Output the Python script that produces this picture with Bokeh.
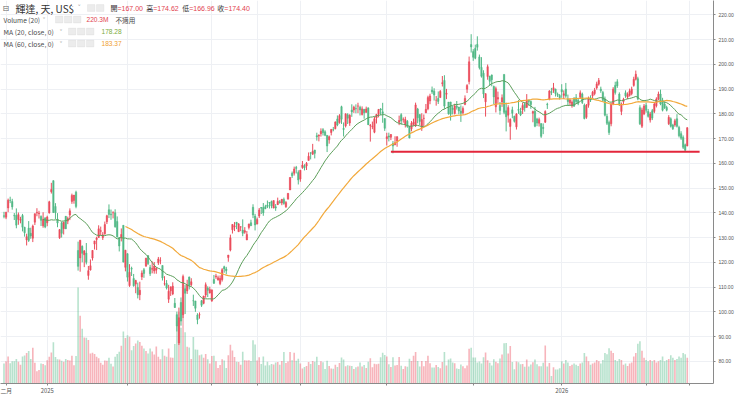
import pandas as pd
from bokeh.plotting import figure
from bokeh.models import (Range1d, FixedTicker, SingleIntervalTicker, NumeralTickFormatter,
                          Label, BoxAnnotation, ColumnDataSource)
from bokeh.embed import file_html
from bokeh.resources import INLINE

# ---------------- data (daily bars, 輝達 NVDA, Dec 2024 -> Mar 2026) ----------------
OPENS = [
    138.83,138.26,142.00,145.11,144.60,138.97,139.01,137.36,137.08,138.94,134.18,129.09,133.86,131.76,129.81,136.28,140.00,139.70,138.55,134.83,138.03,
    136.00,140.01,148.59,153.03,142.58,137.45,129.99,136.05,133.65,138.64,136.69,139.16,144.66,145.05,148.37,124.80,121.81,126.50,123.10,123.78,
    114.75,116.96,121.76,127.42,129.22,130.09,132.58,130.02,131.56,136.48,141.27,139.51,140.03,140.04,136.56,129.98,129.99,135.00,118.02,
    123.51,110.65,117.58,113.53,111.25,109.90,106.99,114.12,117.03,118.61,122.74,118.00,117.27,116.55,116.89,119.88,120.60,118.73,111.35,111.49,105.13,
    108.52,107.29,103.51,98.91,87.46,103.81,98.89,109.37,108.50,114.11,110.97,104.55,104.45,98.77,98.78,104.52,103.48,106.85,109.69,107.67,104.47,
    113.08,114.18,112.91,111.48,113.05,118.25,117.35,121.97,124.98,133.20,134.30,136.22,132.39,134.29,133.06,132.23,129.10,134.15,136.03,142.25,138.72,
    135.49,138.78,142.19,142.17,142.51,143.19,144.21,144.61,141.97,142.48,143.35,144.49,144.01,145.45,142.50,145.56,149.27,155.98,156.04,158.37,
    156.29,153.66,158.37,158.98,158.97,161.22,164.32,163.72,165.37,171.19,171.06,172.02,173.64,172.75,171.34,169.53,172.47,173.61,174.02,177.96,176.51,182.90,
    174.09,175.16,179.62,176.33,181.57,181.56,182.16,183.16,182.64,179.74,181.88,180.60,182.43,175.20,174.85,172.61,178.35,180.06,181.98,180.82,178.11,
    170.00,171.06,170.57,168.03,167.55,169.08,176.64,179.68,177.78,175.67,177.00,174.86,173.98,175.77,175.30,181.97,179.77,174.48,178.17,180.43,182.08,
    185.24,189.60,189.19,185.50,186.23,186.57,192.23,193.51,187.97,184.77,184.80,182.23,180.18,183.13,182.79,181.14,180.42,183.84,189.99,193.05,207.98,205.15,206.45,
    208.08,203.00,198.77,196.42,184.90,195.10,195.16,195.72,191.05,182.86,185.97,183.38,184.79,195.95,181.24,179.49,174.91,181.63,179.01,
    174.76,181.76,181.08,181.62,183.89,182.64,185.56,184.97,180.28,181.11,177.94,176.26,176.10,174.53,176.67,183.92,186.00,189.00,189.50,190.00,187.90,187.40,
    189.8,187.5,190.0,186.0,184.5,183.2,186.0,186.5,185.5,186.7,188.0,183.5,178.6,183.5,186.5,187.3,188.2,190.5,192.0,190.0,
    188.6,186.0,179.0,176.5,176.0,184.0,191.5,193.0,188.0,181.0,185.0,188.5,186.8,187.5,188.2,191.5,194.0,194.2,182.5,175.0,
    180.0,183.5,181.0,177.5,181.3,181.0,183.3,186.0,188.0,185.5,184.0,182.6,176.0,178.0,175.5,175.5,178.0,174.5,172.0,170.5,167.5,167.00,
]
HIGHS = [
    140.45,140.45,145.79,146.54,145.70,139.95,141.82,140.17,138.44,139.60,134.40,131.59,136.70,134.03,135.28,139.79,141.90,140.85,139.02,140.27,138.07,
    138.88,144.90,152.16,153.13,143.95,139.92,133.49,136.38,136.45,138.75,138.50,141.83,147.79,147.23,148.97,128.40,129.00,126.89,125.00,127.85,
    118.57,121.20,125.00,128.77,130.37,135.00,134.48,132.24,136.50,139.25,143.44,141.36,140.67,141.46,138.59,130.20,133.73,135.01,125.09,
    123.70,119.31,118.28,115.35,113.00,111.85,112.23,116.77,117.76,121.89,122.96,119.02,120.45,120.17,117.99,122.22,122.10,118.84,114.45,112.87,110.96,
    110.20,111.98,105.63,100.13,101.75,105.85,115.10,110.86,113.00,114.29,113.62,106.98,104.47,99.50,99.81,104.80,106.54,111.92,110.37,110.20,108.92,
    114.94,115.40,114.67,114.74,117.68,118.68,118.23,123.00,131.22,135.44,136.30,136.35,135.87,134.58,137.40,134.25,132.68,135.66,137.25,143.49,139.62,
    138.12,142.00,142.39,144.00,143.27,145.00,144.38,144.99,145.00,143.58,146.18,145.22,145.65,146.20,144.78,147.96,154.45,156.72,158.71,158.99,
    157.20,157.38,160.98,159.68,160.56,164.42,164.50,167.89,165.49,172.40,171.75,174.16,174.25,173.38,171.39,171.26,173.83,174.72,176.94,179.38,179.89,183.30,
    176.54,180.26,180.26,179.89,183.88,183.30,183.85,184.50,183.30,183.03,181.90,182.94,182.50,175.93,176.90,178.89,180.00,182.00,182.34,184.47,178.15,
    172.38,172.41,171.86,169.03,170.96,170.98,179.29,180.28,178.59,178.85,177.50,175.13,177.10,178.08,184.55,182.42,179.78,180.26,179.77,184.00,187.35,
    188.14,191.05,190.36,187.23,189.06,189.60,195.30,195.62,190.11,184.80,184.87,183.28,184.10,185.20,182.79,183.44,183.03,187.47,192.00,203.15,212.19,206.16,207.97,
    211.34,203.97,202.92,197.62,188.32,199.94,195.42,195.89,191.44,191.01,189.00,184.80,187.86,196.00,184.56,183.50,178.16,182.91,179.29,
    180.30,185.66,182.45,184.52,184.66,188.00,185.72,185.48,181.32,182.82,178.42,178.49,176.13,176.15,181.45,184.50,189.60,190.50,192.50,190.20,188.60,188.00,
    192.0,189.5,192.5,187.8,186.3,185.5,186.8,188.0,186.5,189.5,188.6,184.2,184.0,187.0,187.5,189.3,190.5,193.0,194.5,191.0,
    189.3,187.0,180.0,177.3,184.5,190.8,193.0,194.0,188.7,184.6,186.5,189.5,188.7,190.2,191.0,195.0,197.5,195.0,183.5,182.5,
    184.0,184.5,182.0,180.8,182.0,184.6,186.7,189.0,189.8,186.5,185.0,183.3,179.5,178.6,176.0,178.0,179.9,175.2,173.0,171.3,168.0,174.62,
]
LOWS = [
    137.82,137.48,140.29,143.95,141.31,137.13,133.79,135.21,135.80,132.54,130.42,126.86,128.28,129.55,128.22,135.12,138.65,137.73,134.71,134.02,133.83,
    134.63,139.73,147.82,140.01,137.56,134.22,129.51,130.05,131.29,133.49,135.46,137.09,143.67,143.72,141.88,116.70,116.25,120.05,118.10,119.19,
    113.01,116.70,120.76,125.21,125.00,129.96,131.02,129.08,131.17,135.50,137.93,137.22,137.78,134.03,130.08,124.44,128.49,120.01,116.40,
    112.28,110.11,114.51,110.22,107.56,105.46,104.77,112.88,113.79,118.15,118.99,114.54,115.60,115.46,115.43,119.00,119.26,112.70,110.66,109.07,103.65,
    106.47,106.79,101.60,92.11,86.62,94.46,97.53,99.15,107.27,109.07,110.50,102.43,100.05,95.04,97.28,102.02,103.11,105.73,106.02,107.44,104.08,
    111.30,113.37,112.66,110.82,112.28,115.85,115.21,120.28,124.47,131.68,132.66,133.46,132.39,132.62,130.59,131.55,129.00,133.31,134.79,137.91,132.92,
    135.40,137.95,139.55,138.83,141.51,141.94,141.77,141.87,141.85,140.85,143.20,143.78,143.12,143.30,142.03,145.50,149.26,154.12,155.09,155.93,
    151.49,152.58,157.80,157.17,157.34,161.16,161.62,163.47,162.02,169.20,168.90,170.83,171.26,171.00,164.58,167.97,171.30,172.96,173.75,175.02,176.04,175.93,
    170.89,174.52,175.90,175.16,178.80,180.40,180.25,180.30,179.35,179.35,178.04,180.59,175.49,168.80,173.81,172.19,176.12,178.60,179.55,176.41,173.14,
    167.22,168.89,169.41,164.07,167.35,166.73,175.46,175.69,176.45,174.51,174.38,170.10,172.96,175.18,174.71,176.21,175.40,173.13,174.93,180.32,181.48,
    183.90,188.06,185.38,183.33,184.00,186.54,191.06,182.05,185.96,179.70,177.29,179.77,179.75,181.73,179.80,176.76,179.79,183.50,188.43,191.91,204.78,201.41,202.07,
    205.56,197.93,194.65,186.38,178.91,193.79,191.30,191.13,183.85,180.58,184.32,179.65,182.83,179.85,172.93,176.48,169.55,178.24,176.50,
    173.68,180.00,179.11,179.96,180.91,182.40,183.32,182.04,176.62,174.62,175.03,174.90,170.31,171.82,176.34,182.00,185.50,187.60,188.50,187.00,186.80,185.80,
    186.5,186.0,186.5,183.5,183.6,182.5,182.9,184.0,183.5,186.0,184.0,177.8,178.0,182.5,184.8,186.4,187.5,189.8,191.4,188.5,
    185.0,179.0,175.5,171.5,175.0,183.5,187.8,190.5,183.2,179.5,183.5,186.5,186.0,187.0,187.5,191.0,193.5,185.5,175.5,174.3,
    179.5,180.5,178.5,176.5,177.5,180.3,182.6,185.5,183.5,181.0,182.0,181.0,175.5,174.5,173.5,174.8,174.5,170.5,169.5,165.8,164.6,166.96,
]
CLOSES = [
    138.63,140.26,145.14,145.06,142.44,138.81,135.07,139.31,137.34,134.25,132.00,130.39,128.91,130.68,134.70,139.67,140.22,139.93,137.01,137.49,134.29,
    138.31,144.47,149.43,140.14,140.11,135.91,133.23,131.76,136.24,133.57,137.71,140.83,147.07,147.22,142.62,118.42,128.99,123.70,124.65,120.07,
    116.66,118.65,124.83,128.68,129.84,133.57,132.80,131.14,135.29,138.85,139.40,139.23,140.11,134.43,130.28,126.63,131.28,120.15,124.92,
    114.06,115.99,117.30,110.57,112.69,106.98,108.76,115.74,115.58,121.67,119.53,115.43,117.52,118.53,117.70,121.41,120.69,113.76,111.43,109.67,108.38,
    110.15,110.42,101.80,94.31,97.64,96.30,114.33,107.57,110.93,110.71,112.20,104.49,101.49,96.91,98.89,102.71,106.43,111.01,108.73,109.02,108.92,
    111.61,114.50,113.82,113.54,117.06,117.37,116.65,123.00,129.93,135.34,134.83,135.40,135.57,134.38,131.80,132.83,131.29,135.50,134.81,139.19,135.13,
    137.38,141.22,141.92,139.99,141.72,142.63,143.96,142.83,145.00,141.97,144.69,144.12,145.48,143.85,144.17,147.90,154.31,155.02,157.75,157.99,
    153.30,157.25,159.34,158.24,160.00,162.88,164.10,164.92,164.07,170.70,171.37,173.00,172.41,171.38,167.03,170.78,173.74,173.50,176.75,175.51,179.27,177.87,
    173.72,180.00,178.26,179.42,180.77,182.70,182.06,183.16,181.59,182.02,180.45,182.01,175.64,175.40,174.98,177.99,179.81,181.77,181.60,180.17,174.18,
    170.78,170.62,171.66,167.02,168.31,170.76,177.33,177.17,177.82,177.75,174.88,170.29,176.24,176.67,183.61,178.43,176.97,177.69,178.19,181.85,186.58,
    187.24,188.89,187.62,185.54,185.04,189.11,192.57,183.16,188.32,180.03,179.83,181.81,183.22,182.64,181.16,180.28,182.16,186.26,191.49,201.03,207.04,202.89,202.49,
    206.88,198.69,195.21,188.08,188.15,199.05,193.16,193.80,186.86,190.17,186.60,181.36,186.52,180.64,178.88,182.55,177.82,180.26,177.00,
    179.92,181.46,179.59,183.38,182.41,185.55,184.97,183.78,180.93,175.02,176.29,177.72,170.94,174.14,180.99,183.69,189.21,188.61,190.53,188.22,187.54,186.50,
    188.9,188.1,187.2,185.0,185.6,184.8,183.1,185.0,184.3,188.5,184.6,178.1,183.5,186.2,185.6,188.7,189.6,192.1,193.5,189.3,
    185.5,179.5,176.2,172.5,184.0,190.0,188.6,191.3,184.0,184.0,185.8,187.3,187.8,189.3,190.0,194.0,196.0,186.0,176.0,181.6,
    183.2,181.5,179.0,180.0,178.3,184.0,186.0,188.0,184.0,181.5,182.5,181.5,178.6,175.0,174.0,177.2,175.0,171.2,170.2,166.5,165.3,174.40,
]
VOLUMES_M = [
    171,190,231,172,189,189,210,185,160,231,238,260,277,209,306,176,105,116,170,167,155,
    198,229,265,351,227,207,204,195,185,209,201,197,237,155,234,819,579,467,392,390,
    371,256,262,251,228,216,178,160,197,195,219,168,144,228,251,271,322,443,389,
    411,398,284,321,341,366,354,323,299,277,255,299,273,248,316,228,206,293,236,229,299,
    222,220,338,532,612,476,612,437,313,307,210,397,290,288,241,247,220,251,207,170,235,
    236,190,133,158,206,197,132,240,330,281,226,185,183,161,270,199,197,198,192,369,333,
    197,225,167,231,153,185,155,167,162,180,183,161,193,268,174,187,269,198,263,194,
    212,171,128,141,150,183,167,193,185,228,158,190,181,123,194,150,129,125,160,140,175,221,
    204,148,156,151,150,123,138,145,179,145,157,133,185,215,138,168,164,169,223,262,243,
    231,164,141,224,154,157,226,152,124,147,142,211,191,237,269,192,144,191,148,193,236,
    173,137,137,157,140,130,183,268,154,205,214,180,173,128,124,162,148,131,153,297,304,222,222,
    180,188,171,223,264,198,176,154,207,186,173,213,247,343,346,256,320,183,121,
    188,182,165,167,143,204,144,162,182,204,164,148,148,176,324,144,174,65,139,120,120,130,
    190,170,200,180,150,160,170,160,150,170,180,260,230,190,160,170,180,200,190,170,
    200,260,250,300,280,260,200,190,210,200,160,170,150,170,180,230,260,340,360,280,
    220,200,190,200,190,200,180,190,200,230,190,200,210,240,220,200,210,230,220,260,250,220.3,
]

# month ticks (bar index) and their labels
MONTH_TICKS = [1, 21, 60, 101, 123, 144, 186, 228, 271, 312, 333]
TICK_LABELS = {1: "二月", 21: "2025", 271: "2026"}

SUPPORT_PRICE = 164.7
SUPPORT_FROM = 188
SUPPORT_TO = 338

MA_FAST, MA_SLOW = 20, 60
HEADER_TITLE = "輝達, 天, US$"
HEADER_VOL = "220.3M"
HEADER_MA20 = "178.28"
HEADER_MA60 = "183.37"

# ---------------- styling ----------------
UP = "#eb4d5c"      # close >= open
DOWN = "#53b987"
MA20_COLOR = "#5c9e5a"
MA60_COLOR = "#f2a93b"
GRID = "#eef0f4"
AXIS = "#8a8a8a"
TXT = "#4a4a4a"
CJK = "Noto Sans CJK TC"

n = len(CLOSES)
df = pd.DataFrame({"o": OPENS, "h": HIGHS, "l": LOWS, "c": CLOSES, "v": VOLUMES_M})
df["x"] = range(n)
df["top"] = df[["o", "c"]].max(axis=1)
df["bot"] = df[["o", "c"]].min(axis=1)
df["color"] = [UP if c >= o else DOWN for o, c in zip(df.o, df.c)]
df["ma20"] = df.c.rolling(MA_FAST).mean()
df["ma60"] = df.c.rolling(MA_SLOW).mean()

src = ColumnDataSource(df)
ma20 = df.dropna(subset=["ma20"])
ma60 = df.dropna(subset=["ma60"])

FRAME_W, FRAME_H = 713, 383
p = figure(frame_width=FRAME_W, frame_height=FRAME_H, output_backend="svg", toolbar_location=None,
           x_range=Range1d(-1.7, 344.75), y_range=Range1d(71.1, 225.8),
           y_axis_location="right", min_border_left=0, min_border_top=0,
           min_border_right=27, min_border_bottom=14, background_fill_color="white",
           border_fill_color="white")
p.outline_line_color = None

vol_top = max(VOLUMES_M) * 3.99
p.extra_y_ranges = {"vol": Range1d(0, vol_top)}

# grid
p.ygrid.ticker = SingleIntervalTicker(interval=10)
p.ygrid.grid_line_color = GRID
p.xgrid.ticker = FixedTicker(ticks=MONTH_TICKS)
p.xgrid.grid_line_color = GRID

# volume
p.vbar(x="x", top="v", bottom=0, width=0.78, source=src, y_range_name="vol",
       fill_color="color", fill_alpha=0.42, line_color=None)

# candles
p.segment(x0="x", y0="h", x1="x", y1="l", source=src, line_color="color", line_width=1)
p.vbar(x="x", top="top", bottom="bot", width=0.68, source=src, fill_color="color", line_color="color",
       line_width=0.5)

# moving averages
p.line(ma20.x, ma20.ma20, line_color=MA20_COLOR, line_width=1)
p.line(ma60.x, ma60.ma60, line_color=MA60_COLOR, line_width=1.2)

# support line
p.segment(x0=[SUPPORT_FROM], y0=[SUPPORT_PRICE], x1=[SUPPORT_TO], y1=[SUPPORT_PRICE],
          line_color="#e3263b", line_width=2.2)

# axes
ya = p.yaxis[0]
ya.ticker = SingleIntervalTicker(interval=10)
ya.formatter = NumeralTickFormatter(format="0.00")
ya.axis_line_color = AXIS
ya.major_tick_line_color = AXIS
ya.major_tick_out = 2
ya.major_tick_in = 0
ya.minor_tick_line_color = None
ya.major_label_text_font_size = "5px"
ya.major_label_text_color = "#555555"
ya.major_label_standoff = 1
ya.major_label_text_font = "Liberation Sans"

xa = p.xaxis[0]
xa.ticker = FixedTicker(ticks=MONTH_TICKS)
xa.major_label_overrides = {t: TICK_LABELS.get(t, "") for t in MONTH_TICKS}
xa.axis_line_color = AXIS
xa.major_tick_line_color = AXIS
xa.major_tick_out = 2
xa.major_tick_in = 0
xa.minor_tick_line_color = None
xa.major_label_text_font_size = "5.8px"
xa.major_label_text_color = "#555555"
xa.major_label_standoff = 0
xa.major_label_text_font = CJK

# last price tag on the axis
last = CLOSES[-1]
p.add_layout(Label(x=344.75, y=last, text=f"{last:.2f}", text_font_size="5px",
                   text_font="Liberation Sans", text_color="white", text_baseline="middle",
                   text_align="left", x_offset=1, background_fill_color="#e0533f",
                   border_line_color="#e0533f", padding=1))


def txt(x, y, s, color=TXT, size="6.8px", font=CJK):
    p.add_layout(Label(x=x, y=FRAME_H - y, x_units="screen", y_units="screen", text=s,
                       text_font=font, text_font_size=size, text_color=color,
                       text_baseline="middle", text_align="left"))


def icons(x0, y, count):
    for i in range(count):
        l = x0 + i * 9
        p.add_layout(BoxAnnotation(left=l, right=l + 7.4, top=FRAME_H - y + 3.4, bottom=FRAME_H - y - 3.4,
                                   left_units="screen", right_units="screen", top_units="screen",
                                   bottom_units="screen", fill_color="#ececec", fill_alpha=1,
                                   line_color="#cfcfcf", line_width=0.8, level="overlay"))


# header row 1
txt(2, 7.5, "⊟", color="#666666", size="8px", font="DejaVu Sans")
txt(15, 7.5, HEADER_TITLE, color="#333333", size="10px")
txt(77, 7.5, "˅", color="#999999", size="7px", font="DejaVu Sans")
icons(87, 7.5, 2)
vals = [("開", OPENS[-1], 110.0), ("高", HIGHS[-1], 145.7), ("低", LOWS[-1], 181.7), ("收", CLOSES[-1], 216.8)]
for lab, v, x in vals:
    txt(x, 7.5, lab, color="#333333", size="7px")
    txt(x + 7.0, 7.5, f"={v:.2f}", color="#e2434f", size="7px", font="Liberation Sans")

# header rows 2-4
txt(3, 19, "Volume (20)", size="6.6px")
txt(42, 19, "˅", color="#999999", size="6px", font="DejaVu Sans")
icons(55, 19, 3)
txt(86, 19, HEADER_VOL, color="#e2434f", size="6.6px", font="Liberation Sans")
txt(115, 19, "不適用", size="6.6px")

txt(3, 31, "MA (20, close, 0)", size="6.8px")
txt(59, 31, "˅", color="#999999", size="6px", font="DejaVu Sans")
icons(68, 31, 3)
txt(101, 31, HEADER_MA20, color="#7aab3c", size="6.6px", font="Liberation Sans")

txt(3, 43, "MA (60, close, 0)", size="6.8px")
txt(59, 43, "˅", color="#999999", size="6px", font="DejaVu Sans")
icons(68, 43, 3)
txt(101, 43, HEADER_MA60, color="#f0a030", size="6.6px", font="Liberation Sans")

open("out.html", "w").write(file_html(p, INLINE, title="輝達"))
